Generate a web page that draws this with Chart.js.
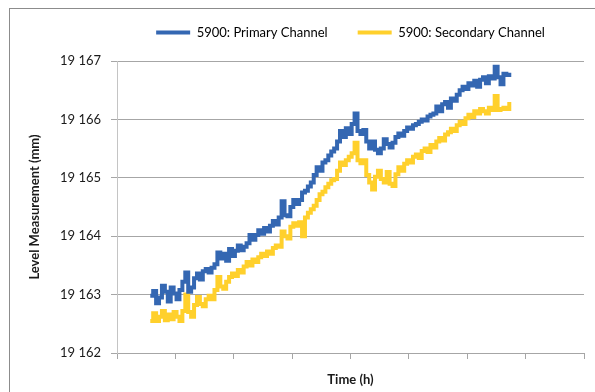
<!DOCTYPE html>
<html>
<head>
<meta charset="utf-8">
<script src="https://cdn.jsdelivr.net/npm/chart.js@4"></script>
<style>
    html, body { margin: 0; padding: 0; background: #fff; overflow: hidden; }
    .frame { position: absolute; left: 9px; top: 8px; width: 700px; height: 500px; border: 1px solid #8c8c8c; }
    .wrap { position: absolute; left: 0; top: 0; width: 595px; height: 392px; }
</style>
</head>
<body>
<div class="frame"></div>
<div class="wrap"><canvas id="chart" width="595" height="392"></canvas></div>
<script>
const SERIES_NAMES = ['5900: Primary Channel', '5900: Secondary Channel'];
const SERIES_COLORS = ['#3467b2', '#ffd02c'];

// sample times (h): first sample and spacing
const T_START = 0.57;
const T_STEP = 0.05;

const primary = [
    19162.98, 19163.06, 19162.85, 19162.95, 19163.15, 19163.05, 19162.88, 19163.12, 19163.02, 19162.92,
    19163.08, 19163.22, 19163.38, 19163.05, 19163.12, 19163.28, 19163.36, 19163.26, 19163.40, 19163.44,
    19163.38, 19163.46, 19163.52, 19163.72, 19163.62, 19163.70, 19163.58, 19163.78, 19163.66, 19163.75,
    19163.84, 19163.76, 19163.82, 19163.88, 19164.02, 19163.94, 19164.02, 19164.10, 19164.04, 19164.14,
    19164.08, 19164.18, 19164.26, 19164.20, 19164.32, 19164.60, 19164.36, 19164.34, 19164.50, 19164.62,
    19164.55, 19164.62, 19164.75, 19164.78, 19164.85, 19164.92, 19165.05, 19165.18, 19165.12, 19165.26,
    19165.30, 19165.38, 19165.45, 19165.50, 19165.62, 19165.80, 19165.70, 19165.85, 19165.75, 19165.92,
    19166.10, 19165.80, 19165.75, 19165.82, 19165.62, 19165.50, 19165.62, 19165.48, 19165.42, 19165.50,
    19165.66, 19165.58, 19165.52, 19165.60, 19165.70, 19165.76, 19165.72, 19165.80, 19165.86, 19165.84,
    19165.90, 19165.92, 19165.96, 19166.00, 19165.98, 19166.05, 19166.08, 19166.10, 19166.22, 19166.14,
    19166.26, 19166.30, 19166.20, 19166.36, 19166.32, 19166.42, 19166.50, 19166.56, 19166.52, 19166.62,
    19166.58, 19166.66, 19166.56, 19166.68, 19166.72, 19166.62, 19166.74, 19166.70, 19166.90, 19166.72,
    19166.60, 19166.78, 19166.76, 19166.80
];

const secondary = [
    19162.55, 19162.68, 19162.55, 19162.62, 19162.72, 19162.56, 19162.66, 19162.58, 19162.70, 19162.62,
    19162.55, 19162.72, 19163.00, 19162.70, 19162.62, 19162.82, 19162.96, 19162.84, 19162.80, 19162.92,
    19162.98, 19162.92, 19163.08, 19163.30, 19163.14, 19163.10, 19163.22, 19163.30, 19163.36, 19163.32,
    19163.42, 19163.38, 19163.48, 19163.56, 19163.50, 19163.60, 19163.56, 19163.64, 19163.70, 19163.66,
    19163.74, 19163.70, 19163.80, 19163.84, 19163.82, 19164.08, 19164.00, 19163.96, 19164.16, 19164.22,
    19164.18, 19164.24, 19164.00, 19164.32, 19164.40, 19164.46, 19164.52, 19164.62, 19164.72, 19164.76,
    19164.84, 19164.90, 19164.96, 19164.98, 19165.12, 19165.26, 19165.22, 19165.30, 19165.36, 19165.42,
    19165.60, 19165.30, 19165.25, 19165.30, 19165.05, 19164.92, 19164.80, 19165.02, 19165.12, 19164.98,
    19164.92, 19165.10, 19164.90, 19164.86, 19165.06, 19165.18, 19165.12, 19165.24, 19165.30, 19165.26,
    19165.36, 19165.40, 19165.34, 19165.46, 19165.50, 19165.44, 19165.56, 19165.52, 19165.62, 19165.68,
    19165.64, 19165.74, 19165.78, 19165.84, 19165.80, 19165.90, 19165.96, 19165.92, 19166.02, 19166.08,
    19166.04, 19166.14, 19166.10, 19166.18, 19166.14, 19166.10, 19166.20, 19166.16, 19166.40, 19166.16,
    19166.18, 19166.20, 19166.18, 19166.30
];

const Y_MIN = 19162;
const Y_MAX = 19167;
const X_MIN = 0;
const X_MAX = 8;

const FONT = 'Lato, "Open Sans", sans-serif';
const TEXT = '#1a1a1a';
const GRID = '#a6a6a6';
const LEGEND_GAP_BELOW = 12;

function toPoints(values) {
    return values.map((v, i) => ({ x: T_START + i * T_STEP, y: v }));
}

function formatTick(value) {
    const s = String(Math.round(value));
    return s.slice(0, s.length - 3) + ' ' + s.slice(-3);
}

// leaves some room between the legend row and the plot
const legendSpacer = {
    id: 'legendSpacer',
    beforeUpdate(chart) {
        const legend = chart.legend;
        if (legend && !legend._spaced) {
            const fit = legend.fit.bind(legend);
            legend.fit = function () {
                fit();
                this.height += LEGEND_GAP_BELOW;
            };
            legend._spaced = true;
        }
    },
};

new Chart(document.getElementById('chart'), {
    type: 'line',
    plugins: [legendSpacer],
    data: {
        datasets: [
            {
                label: SERIES_NAMES[0],
                data: toPoints(primary),
                borderColor: SERIES_COLORS[0],
                backgroundColor: SERIES_COLORS[0],
                borderWidth: 4,
                pointRadius: 0,
                stepped: true,
            },
            {
                label: SERIES_NAMES[1],
                data: toPoints(secondary),
                borderColor: SERIES_COLORS[1],
                backgroundColor: SERIES_COLORS[1],
                borderWidth: 4,
                pointRadius: 0,
                stepped: true,
            },
        ],
    },
    options: {
        responsive: false,
        animation: false,
        events: [],
        layout: {
            padding: { left: 0, right: 11, top: -4, bottom: 0 },
        },
        plugins: {
            tooltip: { enabled: false },
            legend: {
                position: 'top',
                fullSize: false,
                labels: {
                    boxWidth: 34,
                    boxHeight: 4,
                    padding: 30,
                    color: TEXT,
                    font: { family: FONT, size: 13 },
                    generateLabels: (chart) =>
                        chart.data.datasets.map((ds, i) => ({
                            text: ds.label,
                            fillStyle: ds.borderColor,
                            strokeStyle: ds.borderColor,
                            lineWidth: 0,
                            hidden: false,
                            datasetIndex: i,
                        })),
                },
            },
        },
        scales: {
            x: {
                type: 'linear',
                min: X_MIN,
                max: X_MAX,
                ticks: { display: false, stepSize: 1 },
                grid: {
                    drawOnChartArea: false,
                    drawTicks: true,
                    tickLength: 6,
                    tickColor: GRID,
                },
                border: { color: GRID, width: 1 },
                title: {
                    display: true,
                    text: 'Time (h)',
                    color: TEXT,
                    font: { family: FONT, size: 13, weight: 'bold' },
                    padding: { top: 0, bottom: 4 },
                },
                afterFit: (scale) => { scale.height = 39; },
            },
            y: {
                min: Y_MIN,
                max: Y_MAX,
                ticks: {
                    stepSize: 1,
                    padding: 10,
                    color: TEXT,
                    font: { family: FONT, size: 13 },
                    callback: formatTick,
                },
                grid: {
                    color: GRID,
                    drawTicks: true,
                    tickLength: 6,
                    tickColor: GRID,
                },
                border: { color: '#c4c4c4', width: 1 },
                title: {
                    display: true,
                    text: 'Level Measurement (mm)',
                    color: TEXT,
                    font: { family: FONT, size: 13, weight: 'bold' },
                    padding: { top: 27, bottom: 0 },
                },
                afterFit: (scale) => { scale.width = 117; },
            },
        },
    },
});
</script>
</body>
</html>
